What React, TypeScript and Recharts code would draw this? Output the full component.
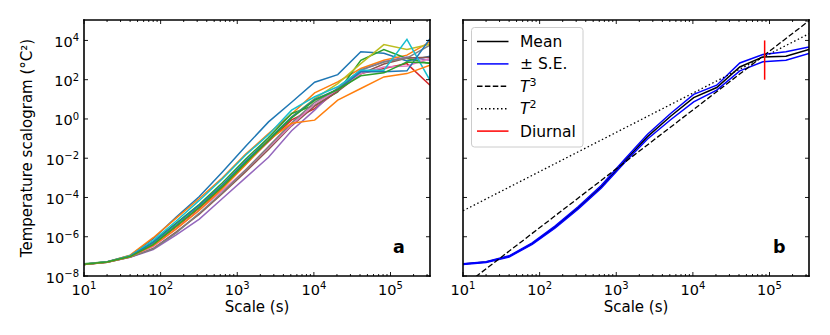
import React from 'react'
import { LineChart, Line, XAxis, YAxis } from 'recharts'

const FONT = 'DejaVu Sans, sans-serif'

// wavelet scales (s)
const scales = [10, 20, 40, 80, 160, 320, 640, 1280, 2560, 5120, 10240, 20480, 40960, 81920, 163840, 327680]

// panel a: log10 of the scalogram for each station
const stationLogs: number[][] = [
  [-7.40, -7.27, -6.96, -6.10, -5.00, -3.95, -2.70, -1.40, -0.15, 0.85, 1.87, 2.26, 3.42, 3.35, 2.95, 3.20],
  [-7.42, -7.28, -6.94, -6.05, -5.05, -4.05, -3.00, -1.80, -0.75, 0.25, 1.33, 1.89, 2.57, 2.99, 3.25, 3.93],
  [-7.38, -7.28, -6.98, -6.25, -5.30, -4.35, -3.25, -2.05, -0.95, 0.28, 0.70, 1.38, 2.99, 3.54, 3.08, 2.82],
  [-7.40, -7.29, -7.00, -6.40, -5.50, -4.55, -3.50, -2.30, -1.15, -0.05, 0.53, 1.46, 2.31, 2.57, 2.82, 1.72],
  [-7.40, -7.30, -7.05, -6.65, -5.90, -5.10, -4.05, -3.00, -1.95, -0.60, 0.45, 1.60, 2.48, 2.91, 3.16, 2.99],
  [-7.41, -7.30, -7.03, -6.60, -5.75, -4.85, -3.80, -2.70, -1.55, -0.35, 0.65, 1.40, 2.30, 2.80, 3.10, 3.15],
  [-7.40, -7.29, -7.02, -6.50, -5.60, -4.65, -3.65, -2.60, -1.45, -0.30, 0.75, 1.50, 2.31, 2.65, 2.70, 3.08],
  [-7.41, -7.30, -7.03, -6.62, -5.80, -4.80, -3.75, -2.60, -1.40, -0.20, 0.85, 1.55, 2.50, 2.90, 3.10, 3.76],
  [-7.40, -7.28, -7.00, -6.35, -5.45, -4.50, -3.40, -2.20, -1.05, 0.10, 1.04, 1.80, 2.82, 3.79, 3.54, 3.81],
  [-7.40, -7.28, -6.97, -6.20, -5.20, -4.15, -3.05, -1.85, -0.80, 0.45, 1.13, 1.64, 2.48, 2.48, 4.06, 1.97],
  [-7.41, -7.29, -7.00, -6.30, -5.35, -4.40, -3.35, -2.15, -1.05, 0.10, 1.00, 1.50, 2.40, 2.40, 2.45, 4.09],
  [-7.42, -7.30, -7.02, -6.45, -5.60, -4.65, -3.55, -2.35, -1.08, -0.22, -0.06, 0.96, 1.55, 2.14, 2.31, 2.74],
  [-7.40, -7.29, -7.01, -6.40, -5.45, -4.50, -3.45, -2.25, -1.10, 0.05, 0.95, 1.50, 2.20, 2.35, 2.90, 2.85],
]
const stationColors = [
  '#1f77b4', '#ff7f0e', '#2ca02c', '#d62728', '#9467bd', '#8c564b', '#e377c2',
  '#7f7f7f', '#bcbd22', '#17becf', '#1f77b4', '#ff7f0e', '#2ca02c',
]

// panel b: mean and standard error (log10)
const meanLog = [-7.39, -7.29, -7.00, -6.35, -5.50, -4.52, -3.45, -2.15, -0.90, 0.14, 1.09, 1.60, 2.65, 3.16, 3.20, 3.54]
const upperLog = [-7.37, -7.27, -6.97, -6.31, -5.45, -4.46, -3.38, -2.07, -0.78, 0.28, 1.25, 1.72, 2.85, 3.28, 3.42, 3.67]
const lowerLog = [-7.41, -7.31, -7.03, -6.39, -5.55, -4.58, -3.52, -2.23, -1.02, -0.04, 0.87, 1.47, 2.45, 2.91, 2.99, 3.33]

// reference power laws, end points
const t3Line = [{ x: 10, y: 2.9e-9 }, { x: 327680, y: 1.0e5 }]
const t2Line = [{ x: 10, y: 2.1e-5 }, { x: 327680, y: 2.2e4 }]
const diurnalLine = [{ x: 86400, y: 100 }, { x: 86400, y: 10000 }]

// axes
const xDomain = [10, 327680]
const yDomain = [1e-8, 1.1e5]
const xMajorTicks = [10, 100, 1000, 10000, 100000]
const xExponents = ['1', '2', '3', '4', '5']
const yTicks = [1e-8, 1e-6, 1e-4, 1e-2, 1, 100, 10000]
const yExponents = ['\u22128', '\u22126', '\u22124', '\u22122', '0', '2', '4']

const xAllTicks: number[] = []
xMajorTicks.forEach(d => {
  xAllTicks.push(d)
  for (let m = 2; m <= 9; m++) if (d * m <= xDomain[1]) xAllTicks.push(d * m)
})

const toPoints = (logs: number[]) => scales.map((x, i) => ({ x, y: Math.pow(10, logs[i]) }))

const frame = { stroke: '#000', strokeWidth: 1.6, strokeLinecap: 'square' as const }

const bottomTick = (showLabel: boolean) => (props: any) => {
  const { x, y, payload } = props
  const i = xMajorTicks.indexOf(payload.value)
  const len = i >= 0 ? 4 : 2
  return (
    <g>
      <line x1={x} x2={x} y1={y} y2={y - len} stroke="#000" strokeWidth={0.9} />
      {showLabel && i >= 0 && (
        <text x={x} y={y + 18.5} textAnchor="middle" fontSize={14.5} fontFamily={FONT} fill="#000">
          10<tspan dy={-5.5} fontSize={10}>{xExponents[i]}</tspan>
        </text>
      )}
    </g>
  )
}

const topTick = (props: any) => {
  const { x, y, payload } = props
  const len = xMajorTicks.includes(payload.value) ? 4 : 2
  return <line x1={x} x2={x} y1={y} y2={y + len} stroke="#000" strokeWidth={0.9} />
}

const leftTick = (showLabel: boolean) => (props: any) => {
  const { x, y, payload } = props
  const i = yTicks.indexOf(payload.value)
  return (
    <g>
      <line x1={x} x2={x + 4} y1={y} y2={y} stroke="#000" strokeWidth={0.9} />
      {showLabel && i >= 0 && (
        <text x={x - 5} y={y + 6.5} textAnchor="end" fontSize={14.5} fontFamily={FONT} fill="#000">
          10<tspan dy={-5.5} fontSize={10}>{yExponents[i]}</tspan>
        </text>
      )}
    </g>
  )
}

const rightTick = (props: any) => {
  const { x, y } = props
  return <line x1={x} x2={x - 4} y1={y} y2={y} stroke="#000" strokeWidth={0.9} />
}

const legendItems = [
  { label: 'Mean', sup: '', italic: false, color: '#000000', dash: undefined as string | undefined },
  { label: '\u00b1 S.E.', sup: '', italic: false, color: '#0000ff', dash: undefined },
  { label: 'T', sup: '3', italic: true, color: '#000000', dash: '5.5 2.4' },
  { label: 'T', sup: '2', italic: true, color: '#000000', dash: '1.5 2.5' },
  { label: 'Diurnal', sup: '', italic: false, color: '#ff0000', dash: undefined },
]

// frame + inward ticks on all four sides
function axisSet(leftWidth: number, rightWidth: number, labels: boolean) {
  return [
    <XAxis key="xb" xAxisId="b" dataKey="x" type="number" scale="log" domain={xDomain} allowDataOverflow
      ticks={xAllTicks} interval={0} tickSize={0} tickMargin={0} height={59} tickLine={false}
      axisLine={frame} tick={bottomTick(true)} />,
    <XAxis key="xt" xAxisId="t" dataKey="x" orientation="top" type="number" scale="log" domain={xDomain} allowDataOverflow
      ticks={xAllTicks} interval={0} tickSize={0} tickMargin={0} height={20} tickLine={false}
      axisLine={frame} tick={topTick} />,
    <YAxis key="yl" yAxisId="l" type="number" scale="log" domain={yDomain} allowDataOverflow
      ticks={yTicks} interval={0} tickSize={0} tickMargin={0} width={leftWidth} tickLine={false}
      axisLine={frame} tick={leftTick(labels)} />,
    <YAxis key="yr" yAxisId="r" orientation="right" type="number" scale="log" domain={yDomain} allowDataOverflow
      ticks={yTicks} interval={0} tickSize={0} tickMargin={0} width={rightWidth} tickLine={false}
      axisLine={frame} tick={rightTick} />,
  ]
}

export default function App() {
  const meanData = toPoints(meanLog)
  return (
    <div style={{ position: 'absolute', left: 0, top: 0, width: 830, height: 335, background: '#fff', fontFamily: FONT }}>
      <div style={{ position: 'absolute', left: 0, top: 0 }}>
        <LineChart width={440} height={335} margin={{ top: 0, right: 0, bottom: 0, left: 0 }}>
          {axisSet(84, 10, true)}
          {stationLogs.map((logs, i) => (
            <Line key={i} xAxisId="b" yAxisId="l" data={toPoints(logs)} dataKey="y" type="linear"
              stroke={stationColors[i]} strokeWidth={1.5} dot={false} isAnimationActive={false} />
          ))}
          <Line xAxisId="t" yAxisId="r" data={meanData} dataKey="y" stroke="none" dot={false} isAnimationActive={false} />
        </LineChart>
      </div>
      <div style={{ position: 'absolute', left: 440, top: 0 }}>
        <LineChart width={390} height={335} margin={{ top: 0, right: 0, bottom: 0, left: 0 }}>
          {axisSet(23, 21, false)}
          <Line xAxisId="b" yAxisId="l" data={meanData} dataKey="y" stroke="#000000" strokeWidth={1.5} dot={false} isAnimationActive={false} />
          <Line xAxisId="b" yAxisId="l" data={toPoints(upperLog)} dataKey="y" stroke="#0000ff" strokeWidth={1.5} dot={false} isAnimationActive={false} />
          <Line xAxisId="b" yAxisId="l" data={toPoints(lowerLog)} dataKey="y" stroke="#0000ff" strokeWidth={1.5} dot={false} isAnimationActive={false} />
          <Line xAxisId="b" yAxisId="l" data={t3Line} dataKey="y" stroke="#000000" strokeWidth={1.3} strokeDasharray="5.5 2.4" dot={false} isAnimationActive={false} />
          <Line xAxisId="b" yAxisId="l" data={t2Line} dataKey="y" stroke="#000000" strokeWidth={1.3} strokeDasharray="1.5 2.5" dot={false} isAnimationActive={false} />
          <Line xAxisId="b" yAxisId="l" data={diurnalLine} dataKey="y" stroke="#ff0000" strokeWidth={1.5} dot={false} isAnimationActive={false} />
          <Line xAxisId="t" yAxisId="r" data={meanData} dataKey="y" stroke="none" dot={false} isAnimationActive={false} />
        </LineChart>
      </div>
      <svg width={830} height={335} style={{ position: 'absolute', left: 0, top: 0, pointerEvents: 'none' }} fontFamily={FONT}>
        <text transform="translate(31.5,148) rotate(-90)" textAnchor="middle" fontSize={15} fill="#000">
          Temperature scalogram (°C²)
        </text>
        <text x={257} y={312} textAnchor="middle" fontSize={15} fill="#000">Scale (s)</text>
        <text x={636} y={312} textAnchor="middle" fontSize={15} fill="#000">Scale (s)</text>
        <text x={393} y={253} fontSize={17.5} fontWeight="bold" fill="#000">a</text>
        <text x={773} y={253} fontSize={17.5} fontWeight="bold" fill="#000">b</text>
        <rect x={471.5} y={27.5} width={111.5} height={119.5} rx={3} fill="#fff" fillOpacity={0.8} stroke="#cccccc" strokeWidth={1} />
        {legendItems.map((it, i) => {
          const cy = 41.5 + i * 22.4
          return (
            <g key={i}>
              <line x1={477} x2={508.5} y1={cy} y2={cy} stroke={it.color} strokeWidth={1.5} strokeDasharray={it.dash} />
              <text x={520} y={cy + 5.5} fontSize={15.5} fill="#000" fontStyle={it.italic ? 'italic' : 'normal'}>
                {it.label}
                {it.sup && <tspan dy={-6} fontSize={11} fontStyle="normal">{it.sup}</tspan>}
              </text>
            </g>
          )
        })}
      </svg>
    </div>
  )
}
